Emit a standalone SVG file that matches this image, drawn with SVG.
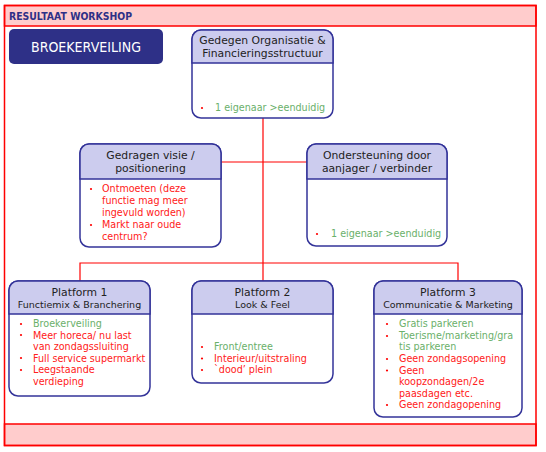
<svg xmlns="http://www.w3.org/2000/svg" width="546" height="452" viewBox="0 0 546 452">
<style>
.frame{fill:none;stroke:#ff0000;stroke-width:1.5}
.band{fill:#ffcccc;stroke:#ff0000;stroke-width:1.5}
.box{fill:#ffffff;stroke:#333399;stroke-width:1.5}
.hdr{fill:#ccccee;stroke:#333399;stroke-width:1.5}
.conn{fill:none;stroke:#ff0000;stroke-width:1.2}
.ht{font-family:"DejaVu Sans",sans-serif;font-size:10.8px;fill:#222222;text-anchor:middle}
.hs{font-family:"DejaVu Sans",sans-serif;font-size:9.5px;fill:#222222;text-anchor:middle}
.b{font-family:"DejaVu Sans",sans-serif;font-size:9.6px}
.g{fill:#6ab06a}
.r{fill:#ff2020}
.dot{fill:#ff0000}
</style>
<rect x="0" y="0" width="546" height="452" fill="#ffffff"/>
<rect class="band" x="4.5" y="5.5" width="531.5" height="20.5"/>
<rect class="band" x="4.5" y="424" width="531.5" height="21.5"/>
<rect class="frame" x="4.5" y="5.5" width="531.5" height="440"/>
<text x="9" y="20" font-family="DejaVu Sans,sans-serif" font-size="10.5px" font-weight="bold" fill="#2e3087" textLength="123" lengthAdjust="spacingAndGlyphs">RESULTAAT WORKSHOP</text>

<g id="broekerveiling">
<rect x="9" y="29" width="154" height="35" rx="5" fill="#2e3087"/>
<text x="86" y="52" font-family="DejaVu Sans,sans-serif" font-size="14px" fill="#ffffff" text-anchor="middle" textLength="110" lengthAdjust="spacingAndGlyphs">BROEKERVEILING</text>
</g>

<g id="connectors">
<line class="conn" x1="263" y1="118" x2="263" y2="281"/>
<line class="conn" x1="221" y1="162" x2="307" y2="162"/>
<polyline class="conn" points="80,281 80,263 458,263 458,281"/>
</g>

<g id="node-organisatie">
<rect class="box" x="192" y="30" width="141" height="88" rx="9"/>
<path class="hdr" d="M192,63 V39 A9,9 0 0 1 201,30 H324 A9,9 0 0 1 333,39 V63 Z"/>
<text class="ht" x="262.5" y="44">Gedegen Organisatie &amp;</text>
<text class="ht" x="262.5" y="57">Financieringsstructuur</text>
<circle class="dot" cx="202" cy="108" r="1.1"/>
<text class="b g" x="215" y="111">1 eigenaar &gt;eenduidig</text>
</g>

<g id="node-visie">
<rect class="box" x="80" y="144" width="141" height="103" rx="9"/>
<path class="hdr" d="M80,179 V153 A9,9 0 0 1 89,144 H212 A9,9 0 0 1 221,153 V179 Z"/>
<text class="ht" x="150.5" y="159">Gedragen visie /</text>
<text class="ht" x="150.5" y="172">positionering</text>
<circle class="dot" cx="91" cy="189" r="1.1"/>
<circle class="dot" cx="91" cy="225" r="1.1"/>
<text class="b r" x="102" y="192">Ontmoeten (deze</text>
<text class="b r" x="102" y="204">functie mag meer</text>
<text class="b r" x="102" y="216">ingevuld worden)</text>
<text class="b r" x="102" y="228">Markt naar oude</text>
<text class="b r" x="102" y="240">centrum?</text>
</g>

<g id="node-ondersteuning">
<rect class="box" x="307" y="144" width="140" height="102" rx="9"/>
<path class="hdr" d="M307,179 V153 A9,9 0 0 1 316,144 H438 A9,9 0 0 1 447,153 V179 Z"/>
<text class="ht" x="377" y="159">Ondersteuning door</text>
<text class="ht" x="377" y="172">aanjager / verbinder</text>
<circle class="dot" cx="317" cy="234" r="1.1"/>
<text class="b g" x="331" y="237">1 eigenaar &gt;eenduidig</text>
</g>

<g id="node-platform1">
<rect class="box" x="9" y="281" width="141" height="115" rx="9"/>
<path class="hdr" d="M9,314 V290 A9,9 0 0 1 18,281 H141 A9,9 0 0 1 150,290 V314 Z"/>
<text class="ht" x="79.5" y="296">Platform 1</text>
<text class="hs" x="79.5" y="308">Functiemix &amp; Branchering</text>
<circle class="dot" cx="21" cy="324" r="1.1"/>
<circle class="dot" cx="21" cy="335" r="1.1"/>
<circle class="dot" cx="21" cy="358" r="1.1"/>
<circle class="dot" cx="21" cy="370" r="1.1"/>
<text class="b g" x="33" y="327">Broekerveiling</text>
<text class="b r" x="33" y="338.5">Meer horeca/ nu last</text>
<text class="b r" x="33" y="350">van zondagssluiting</text>
<text class="b r" x="33" y="361.5">Full service supermarkt</text>
<text class="b r" x="33" y="373">Leegstaande</text>
<text class="b r" x="33" y="384.5">verdieping</text>
</g>

<g id="node-platform2">
<rect class="box" x="192" y="281" width="141" height="102" rx="9"/>
<path class="hdr" d="M192,314 V290 A9,9 0 0 1 201,281 H324 A9,9 0 0 1 333,290 V314 Z"/>
<text class="ht" x="262.5" y="296">Platform 2</text>
<text class="hs" x="262.5" y="308">Look &amp; Feel</text>
<circle class="dot" cx="202" cy="347" r="1.1"/>
<circle class="dot" cx="202" cy="358.5" r="1.1"/>
<circle class="dot" cx="202" cy="370" r="1.1"/>
<text class="b g" x="214" y="350">Front/entree</text>
<text class="b r" x="214" y="361.5">Interieur/uitstraling</text>
<text class="b r" x="214" y="373">`dood’ plein</text>
</g>

<g id="node-platform3">
<rect class="box" x="374" y="281" width="148" height="136" rx="9"/>
<path class="hdr" d="M374,314 V290 A9,9 0 0 1 383,281 H513 A9,9 0 0 1 522,290 V314 Z"/>
<text class="ht" x="448" y="296">Platform 3</text>
<text class="hs" x="448" y="308">Communicatie &amp; Marketing</text>
<circle class="dot" cx="387" cy="324" r="1.1"/>
<circle class="dot" cx="387" cy="336" r="1.1"/>
<circle class="dot" cx="387" cy="359" r="1.1"/>
<circle class="dot" cx="387" cy="370.5" r="1.1"/>
<circle class="dot" cx="387" cy="405" r="1.1"/>
<text class="b g" x="399" y="327">Gratis parkeren</text>
<text class="b g" x="399" y="339">Toerisme/marketing/gra</text>
<text class="b g" x="399" y="350">tis parkeren</text>
<text class="b r" x="399" y="362">Geen zondagsopening</text>
<text class="b r" x="399" y="373.5">Geen</text>
<text class="b r" x="399" y="385">koopzondagen/2e</text>
<text class="b r" x="399" y="396.5">paasdagen etc.</text>
<text class="b r" x="399" y="408">Geen zondagopening</text>
</g>
</svg>
